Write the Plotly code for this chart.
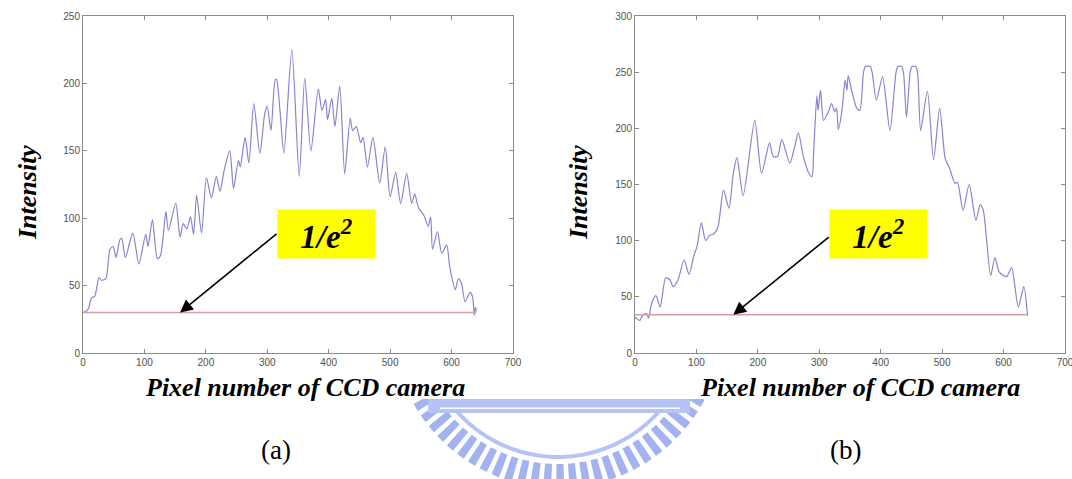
import plotly.graph_objects as go
import numpy as np

W, H = 1072, 479

# ---------------- data ----------------
x_a = [0, 5, 9, 14, 19, 26, 30, 37, 44, 49, 54, 60, 63, 69, 81, 91, 102, 106, 113, 121, 126,
       135, 139, 151, 158, 163, 169, 175, 180, 185, 193, 201, 209, 217, 223, 230, 239, 245,
       253, 256, 264, 270, 278, 288, 296, 300, 306, 313, 315, 321, 327, 340, 352, 361, 371,
       383, 389, 395, 398, 405, 410, 418, 426, 435, 439, 445, 452, 456, 463, 472, 483, 492,
       500, 509, 517, 527, 535, 540, 546, 555, 562, 566, 569, 577, 584, 592, 597, 606, 611,
       616, 622, 630, 634, 637, 639, 640]
y_a = [30, 31, 33, 41, 42, 56, 54, 55, 77, 79, 71, 84, 85, 71, 89, 66, 88, 79, 99, 70, 72,
       105, 91, 111, 86, 96, 92, 101, 88, 117, 89, 130, 115, 131, 120, 136, 150, 122,
       143, 138, 160, 141, 185, 148, 178, 183, 165, 203, 203, 178, 148, 225, 131, 204, 150,
       196, 180, 188, 173, 189, 168, 198, 133, 174, 165, 168, 156, 160, 138, 160, 126, 153,
       116, 134, 111, 133, 111, 118, 108, 102, 94, 101, 77, 90, 74, 80, 64, 47, 55,
       52, 38, 45, 42, 28, 34, 31]

x_b = [0, 2, 8, 13, 19, 22, 27, 34, 41, 50, 57, 62, 70, 80, 88, 96, 101, 108, 115, 122, 128,
       135, 144, 153, 160, 166, 176, 195, 206, 219, 225, 232, 239, 252, 260, 266, 274, 283,
       288, 291, 296, 298, 302, 307, 315, 320, 325, 328, 331, 337, 342, 345, 347, 353, 361,
       366, 372, 375, 383, 386, 393, 403, 415, 425, 428, 434, 437, 442, 448, 451, 457, 460,
       465, 476, 486, 496, 505, 510, 513, 521, 525, 534, 544, 555, 562, 567, 579, 586, 593,
       605, 613, 624, 633, 639]
y_b = [32, 31, 29, 34, 35, 31, 44, 51, 41, 67, 65, 59, 65, 83, 70, 87, 95, 116, 100, 105, 106,
       112, 145, 129, 160, 174, 140, 207, 160, 187, 175, 175, 190, 169, 184, 196, 175, 160,
       157, 181, 229, 216, 234, 207, 215, 222, 215, 218, 199, 216, 243, 234, 247, 233, 218,
       216, 250, 255, 255, 250, 225, 246, 198, 250, 255, 255, 250, 210, 250, 255, 255, 250,
       198, 233, 172, 218, 173, 167, 163, 151, 152, 127, 150, 118, 132, 127, 69, 85, 72,
       68, 76, 41, 59, 33]

level_a = 30          # 1/e^2 level, plot (a)
level_b = 34          # 1/e^2 level, plot (b)
level_end_a = 640
level_end_b = 640

x_ticks = [0, 100, 200, 300, 400, 500, 600, 700]
y_ticks_a = [0, 50, 100, 150, 200, 250]
y_ticks_b = [0, 50, 100, 150, 200, 250, 300]

# ---------------- layout geometry (pixels) ----------------
def px_x(p):
    return p / W

def px_y(p):
    return 1 - p / H

plot_top, plot_bot = 16, 353
dom_a = [px_x(83), px_x(513)]
dom_b = [px_x(635), px_x(1065)]
dom_y = [px_y(plot_bot), px_y(plot_top)]

curve_color = "#8585d2"
level_color = "#d99aa5"

fig = go.Figure()
fig.add_trace(go.Scatter(x=x_a, y=y_a, mode="lines", xaxis="x", yaxis="y",
                         line=dict(color=curve_color, width=1.2, shape="spline", smoothing=0.7),
                         showlegend=False, hoverinfo="skip"))
fig.add_trace(go.Scatter(x=[0, level_end_a], y=[level_a, level_a], mode="lines", xaxis="x", yaxis="y",
                         line=dict(color=level_color, width=1.5), showlegend=False, hoverinfo="skip"))
fig.add_trace(go.Scatter(x=x_b, y=y_b, mode="lines", xaxis="x2", yaxis="y2",
                         line=dict(color=curve_color, width=1.2, shape="spline", smoothing=0.7),
                         showlegend=False, hoverinfo="skip"))
fig.add_trace(go.Scatter(x=[0, level_end_b], y=[level_b, level_b], mode="lines", xaxis="x2", yaxis="y2",
                         line=dict(color=level_color, width=1.5), showlegend=False, hoverinfo="skip"))

tickfont = dict(family="Liberation Sans, Arial", size=10, color="#505050")
ax_common = dict(showgrid=False, zeroline=False, showline=True, linecolor="#8a8a8a", linewidth=1,
                 mirror="ticks", ticks="inside", ticklen=4, tickcolor="#8a8a8a",
                 tickfont=tickfont, fixedrange=True, automargin=False, ticklabeloverflow="allow")

fig.update_layout(
    width=W, height=H, margin=dict(l=0, r=0, t=0, b=0, autoexpand=False),
    paper_bgcolor="white", plot_bgcolor="white",
    xaxis=dict(domain=dom_a, range=[0, 700], tickvals=x_ticks, anchor="y", **ax_common),
    yaxis=dict(domain=dom_y, range=[0, 250], tickvals=y_ticks_a, anchor="x", **ax_common),
    xaxis2=dict(domain=dom_b, range=[0, 700], tickvals=x_ticks, anchor="y2", **ax_common),
    yaxis2=dict(domain=dom_y, range=[0, 300], tickvals=y_ticks_b, anchor="x2", **ax_common),
)

# ---------------- watermark (light blue logo fragment, only its lower part shows) ----------------
cx, cy = 558, 322
wm_teeth = "#a3b3ef"
wm_band = "#b6c3f4"
shapes = []

def ring_path(r_out, r_in, a0, a1, n=40):
    angs = np.linspace(a0, a1, n)
    pts = [(cx + r_out * np.cos(a), cy + r_out * np.sin(a)) for a in angs]
    pts += [(cx + r_in * np.cos(a), cy + r_in * np.sin(a)) for a in angs[::-1]]
    return "M " + " L ".join(f"{px_x(x):.5f},{px_y(y):.5f}" for x, y in pts) + " Z"

# gear teeth
step = np.radians(4.6)
tooth = np.radians(2.8)
a = np.radians(5)
while a < np.radians(178):
    shapes.append(dict(type="path", xref="paper", yref="paper", layer="below",
                       path=ring_path(166, 142, a, a + tooth, n=4),
                       fillcolor=wm_teeth, line=dict(width=0)))
    a += step
# thin inner arc
shapes.append(dict(type="path", xref="paper", yref="paper", layer="below",
                   path=ring_path(137, 133, np.radians(5), np.radians(175)),
                   fillcolor=wm_band, line=dict(width=0)))
# horizontal band with a thin white line
shapes.append(dict(type="rect", xref="paper", yref="paper", layer="below",
                   x0=px_x(428), x1=px_x(690), y0=px_y(413), y1=px_y(399),
                   fillcolor=wm_band, line=dict(width=0)))
shapes.append(dict(type="rect", xref="paper", yref="paper", layer="below",
                   x0=px_x(440), x1=px_x(680), y0=px_y(409), y1=px_y(407.5),
                   fillcolor="white", line=dict(width=0)))
# the chart image hides the upper part of the logo
shapes.append(dict(type="rect", xref="paper", yref="paper", layer="below",
                   x0=0, x1=1, y0=px_y(399), y1=1, fillcolor="white", line=dict(width=0)))
fig.update_layout(shapes=shapes)

# ---------------- annotations ----------------
label_font = dict(family="Liberation Serif, Times New Roman", size=26, color="black")
ann = []
for cxp in (27, 578):
    ann.append(dict(text="<b><i>Intensity</i></b>", xref="paper", yref="paper",
                    x=px_x(cxp), y=px_y(193), textangle=-90, showarrow=False,
                    font=label_font, xanchor="center", yanchor="middle"))
for cxp in (305, 860):
    ann.append(dict(text="<b><i>Pixel number of CCD camera</i></b>", xref="paper", yref="paper",
                    x=px_x(cxp), y=px_y(387), showarrow=False, font=label_font,
                    xanchor="center", yanchor="middle"))
for cxp, t in ((276, "(a)"), (845, "(b)")):
    ann.append(dict(text=t, xref="paper", yref="paper", x=px_x(cxp), y=px_y(450),
                    showarrow=False, xanchor="center", yanchor="middle",
                    font=dict(family="Liberation Serif, Times New Roman", size=27, color="black")))

# arrows pointing to the 1/e^2 line
ann.append(dict(x=158, y=level_a, xref="x", yref="y", ax=98, ay=-80, axref="pixel", ayref="pixel",
                showarrow=True, arrowhead=2, arrowsize=1.6, arrowwidth=1.6, arrowcolor="black", text=""))
ann.append(dict(x=160, y=level_b, xref="x2", yref="y2", ax=97, ay=-79, axref="pixel", ayref="pixel",
                showarrow=True, arrowhead=2, arrowsize=1.6, arrowwidth=1.6, arrowcolor="black", text=""))

box_font = dict(family="Liberation Serif, Times New Roman", size=33, color="black")
for cxp in (326.5, 878.5):
    ann.append(dict(text="<b><i>1/e<sup>2</sup></i></b>", xref="paper", yref="paper",
                    x=px_x(cxp), y=px_y(233.5), showarrow=False, xanchor="center", yanchor="middle",
                    bgcolor="#ffff00", width=93, height=44, borderpad=2, font=box_font))

fig.update_layout(annotations=ann)
fig.write_html("out.html", config={"displayModeBar": False, "staticPlot": True},
               post_script="document.body.style.margin='0px';document.body.style.overflow='hidden';")
